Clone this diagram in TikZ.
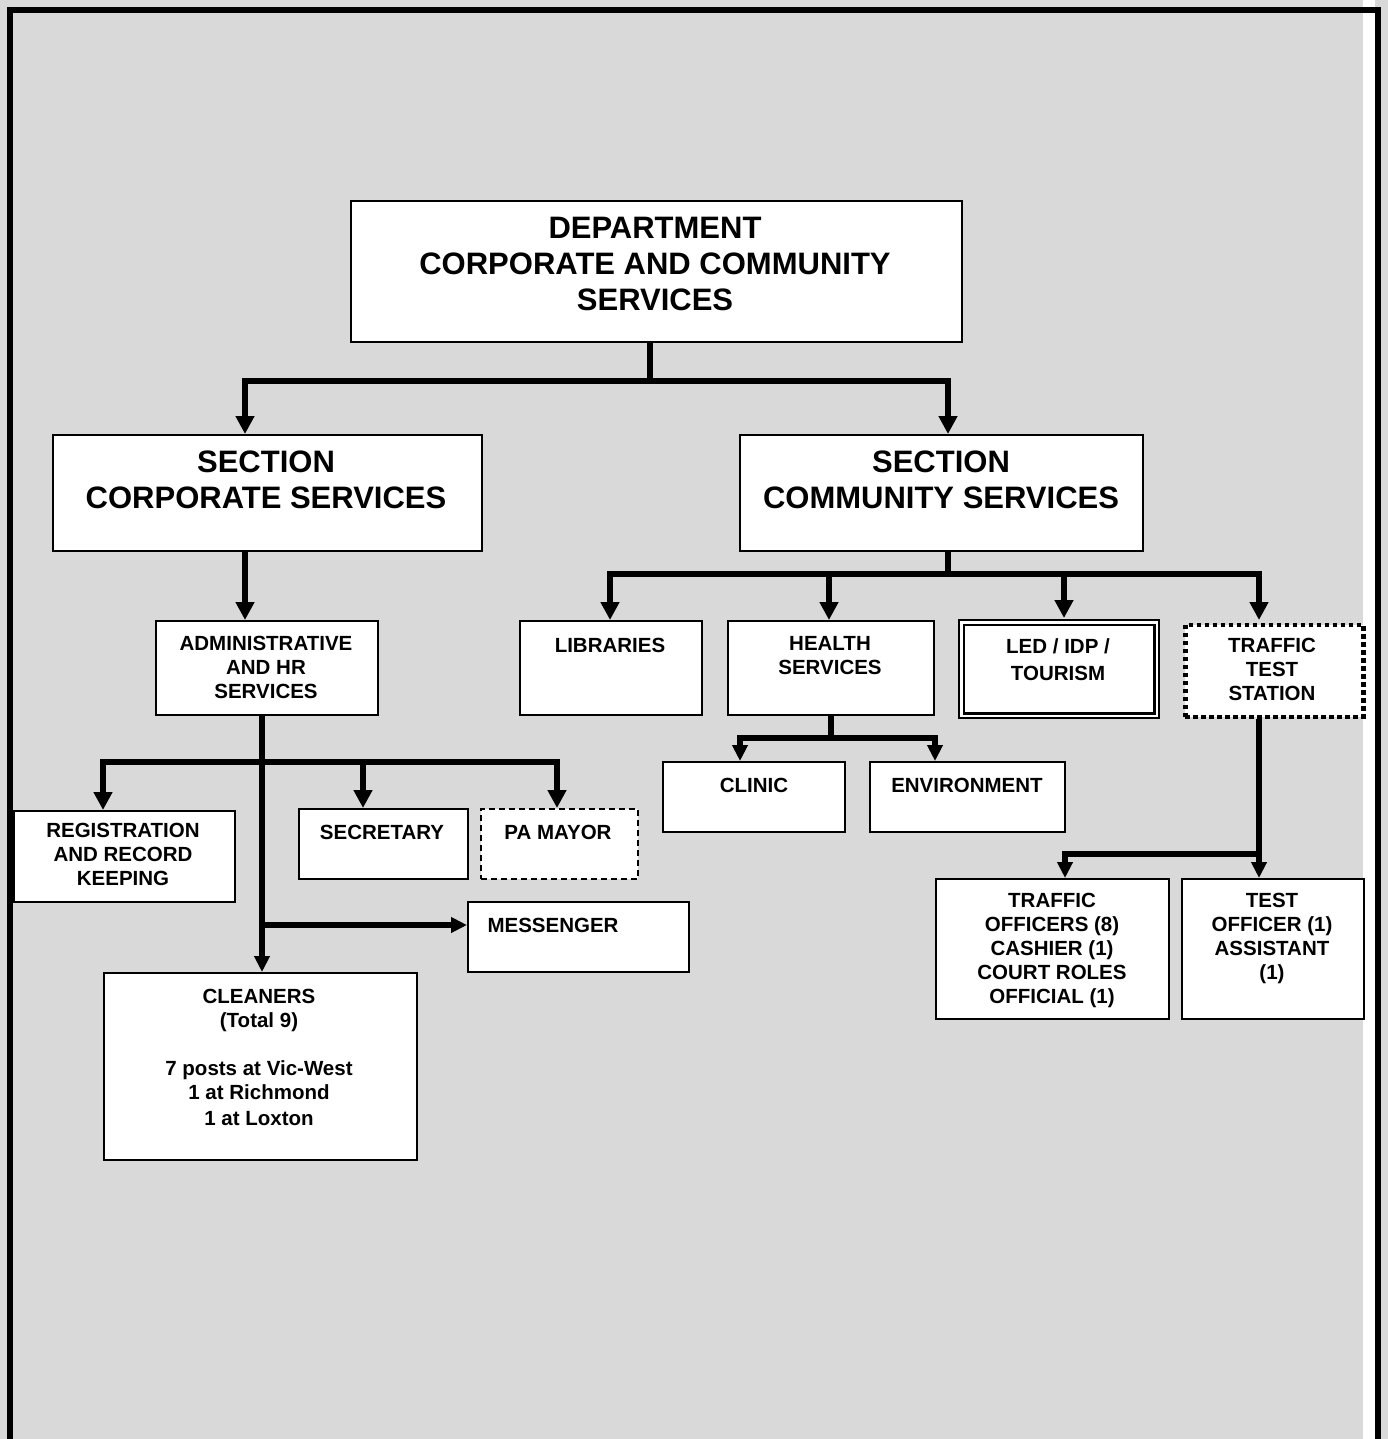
\documentclass[tikz,border=0pt]{standalone}
\usepackage{fontspec}
\setmainfont{Liberation Sans}
\usetikzlibrary{arrows.meta}
\definecolor{pagegray}{HTML}{D9D9D9}
\begin{document}
\begin{tikzpicture}[x=1pt,y=-1pt,
  box/.style={draw=black, line width=1.6pt, fill=white, inner sep=0pt, anchor=north west},
  txt/.style={font=\bfseries\fontsize{20.5}{24}\selectfont, align=center, inner sep=0pt, anchor=north},
  bigtxt/.style={font=\bfseries\fontsize{31}{36}\selectfont, align=center, inner sep=0pt, anchor=north},
  link/.style={line width=5.5pt},
  arr/.style={link, -{Triangle[width=18pt,length=18pt]}},
  sarr/.style={link, -{Triangle[width=15pt,length=16pt]}},
]
\useasboundingbox (0,0) rectangle (1388,1439);
\clip (0,0) rectangle (1388,1439);
% page background and frame
\fill[pagegray] (0,0) rectangle (1388,1439);
\fill[white] (1363,0) rectangle (1375,1439);
\draw[line width=6pt, line join=miter] (10,1460) -- (10,10) -- (1378,10) -- (1378,1460);

% boxes
\node[box, minimum width=611, minimum height=141] (dept) at (350,200) {};
\node[box, minimum width=429, minimum height=116] (corp) at (52,434) {};
\node[box, minimum width=403, minimum height=116] (comm) at (739,434) {};
\node[box, minimum width=222, minimum height=94] (admin) at (155,620) {};
\node[box, minimum width=221, minimum height=91] (reg) at (13,810) {};
\node[box, minimum width=169, minimum height=70] (sec) at (298,808) {};
\node[box, dashed, dash pattern=on 6pt off 4pt, minimum width=157, minimum height=70] (pa) at (480,808) {};
\node[box, minimum width=221, minimum height=70] (mess) at (467,901) {};
\node[box, minimum width=313, minimum height=187] (clean) at (103,972) {};
\node[box, minimum width=182, minimum height=94] (lib) at (519,620) {};
\node[box, minimum width=206, minimum height=94] (health) at (727,620) {};
\node[box, line width=2.2pt, double=white, double distance=2.6pt, minimum width=195.5, minimum height=93.5] (led) at (960.2,621.2) {};
\node[box, line width=4.5pt, dash pattern=on 4.5pt off 3.5pt, minimum width=178, minimum height=92] (traffic) at (1183,622.5) {};
\node[box, minimum width=182, minimum height=70] (clinic) at (662,761) {};
\node[box, minimum width=195, minimum height=70] (env) at (869,761) {};
\node[box, minimum width=233, minimum height=140] (toff) at (935,878) {};
\node[box, minimum width=182, minimum height=140] (test) at (1181,878) {};

% texts
\node[bigtxt] (deptT) at (655,217) {DEPARTMENT\\CORPORATE AND COMMUNITY\\SERVICES};
\node[bigtxt] (corpT) at (266,451) {SECTION\\CORPORATE SERVICES};
\node[bigtxt] (commT) at (941,451) {SECTION\\COMMUNITY SERVICES};
\node[txt] (adminT) at (266,636) {ADMINISTRATIVE\\AND HR\\SERVICES};
\node[txt] (regT) at (123,823) {REGISTRATION\\AND RECORD\\KEEPING};
\node[txt] (secT) at (382,825) {SECRETARY};
\node[txt] (paT) at (558,825) {PA MAYOR};
\node[txt] (messT) at (553,918) {MESSENGER};
\node[txt] (cleanT) at (259,989) {CLEANERS\\(Total 9)\\[24pt]7 posts at Vic-West\\1 at Richmond\\[2pt]1 at Loxton};
\node[txt] (libT) at (610,638) {LIBRARIES};
\node[txt] (healthT) at (830,636) {HEALTH\\SERVICES};
\node[txt] (ledT) at (1058,638) {LED / IDP /\\[3pt]TOURISM};
\node[txt] (trafficT) at (1272,638) {TRAFFIC\\TEST\\STATION};
\node[txt] (clinicT) at (754,778) {CLINIC};
\node[txt] (envT) at (967,778) {ENVIRONMENT};
\node[txt] (toffT) at (1052,893) {TRAFFIC\\OFFICERS (8)\\CASHIER (1)\\COURT ROLES\\OFFICIAL (1)};
\node[txt] (testT) at (1272,893) {TEST\\OFFICER (1)\\ASSISTANT\\(1)};

% junctions and entry points
\coordinate (jtop) at (650,381);
\coordinate (corpIn) at (245,434);
\coordinate (commIn) at (948,434);
\coordinate (aSpine) at (262,762);
\coordinate (regIn) at (103,810);
\coordinate (secIn) at (363,808);
\coordinate (paIn) at (557,808);
\coordinate (mSpine) at (262,925);
\coordinate (messIn) at (467,925);
\coordinate (cj) at (948,574);
\coordinate (libIn) at (610,620);
\coordinate (healthIn) at (829,620);
\coordinate (ledIn) at (1064,618);
\coordinate (trafficIn) at (1259,620);
\coordinate (hj) at (831,738);
\coordinate (clinicIn) at (740,761);
\coordinate (envIn) at (935,761);
\coordinate (tj) at (1259,854);
\coordinate (toffIn) at (1065,878);

% connectors: department level
\draw[link] (dept.south -| jtop) -- (jtop);
\draw[arr] (jtop) -| (corpIn);
\draw[arr] (jtop) -| (commIn);

% corporate services branch
\draw[arr] (corp.south -| corpIn) -- (admin.north -| corpIn);
\draw[sarr] (admin.south -| aSpine) -- (clean.north -| aSpine);
\draw[arr] (aSpine) -| (regIn);
\draw[arr] (aSpine) -| (secIn);
\draw[arr] (aSpine) -| (paIn);
\draw[sarr] (mSpine) -- (messIn);

% community services branch
\draw[link] (comm.south -| cj) -- (cj);
\draw[arr] (cj) -| (libIn);
\draw[arr] (cj) -| (healthIn);
\draw[arr] (cj) -| (ledIn);
\draw[arr] (cj) -| (trafficIn);

\draw[link] (health.south -| hj) -- (hj);
\draw[sarr] (hj) -| (clinicIn);
\draw[sarr] (hj) -| (envIn);

\draw[link] (traffic.south -| tj) -- (tj);
\draw[sarr] (tj) -| (toffIn);
\draw[sarr] (tj) -- (test.north -| tj);
\end{tikzpicture}
\end{document}
